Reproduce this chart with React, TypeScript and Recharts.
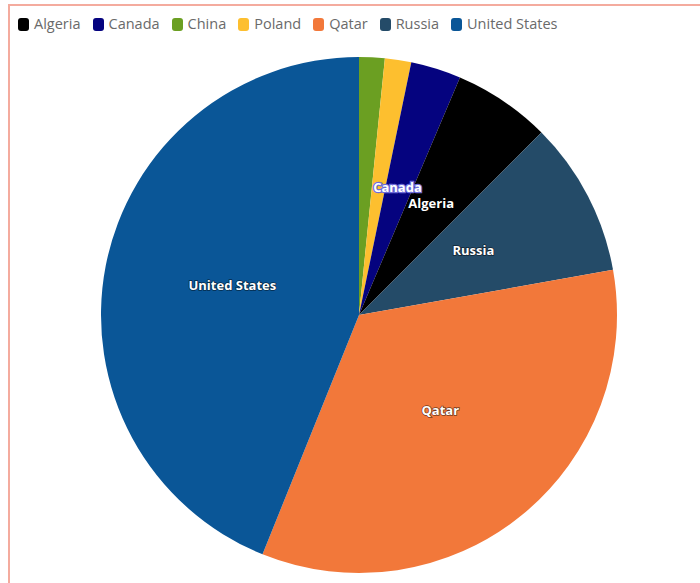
import React from "react";
import { PieChart, Pie, Cell } from "recharts";

// Slices in drawing order (clockwise from 12 o'clock)
const countries = ["China", "Poland", "Canada", "Algeria", "Russia", "Qatar", "United States"];
const shares = [1.6, 1.65, 3.15, 6.1, 9.7, 33.9, 43.9];
// Legend order (alphabetical)
const legendOrder = ["Algeria", "Canada", "China", "Poland", "Qatar", "Russia", "United States"];
// Labels hidden for the tiny slices
const unlabeled = ["China", "Poland"];

const colors: Record<string, string> = {
  Algeria: "#000000",
  Canada: "#05037f",
  China: "#6b9f22",
  Poland: "#fdbf2f",
  Qatar: "#f2783a",
  Russia: "#244b68",
  "United States": "#0a5697",
};

const data = countries.map((name, i) => ({ name, value: shares[i] }));

const FONT = "'Open Sans', 'DejaVu Sans', sans-serif";
const RADIAN = Math.PI / 180;

const renderLabel = (props: any) => {
  const { cx, cy, midAngle, outerRadius, name } = props;
  if (unlabeled.includes(name)) return null;
  const r = outerRadius * 0.5;
  const x = cx + r * Math.cos(-midAngle * RADIAN);
  const y = cy + r * Math.sin(-midAngle * RADIAN) - 5;
  const halo = name === "Canada" ? "#6b6bd8" : "rgba(0,0,0,0.55)";
  return (
    <text
      x={x}
      y={y}
      fill="#ffffff"
      stroke={halo}
      strokeWidth={name === "Canada" ? 2.5 : 1.5}
      paintOrder="stroke"
      textAnchor="middle"
      dominantBaseline="central"
      fontFamily={FONT}
      fontWeight={700}
      fontSize={13}
    >
      {name}
    </text>
  );
};

const LegendBlock = () => (
  <div
    style={{
      position: "absolute",
      left: 18,
      top: 14,
      display: "flex",
      alignItems: "center",
      gap: 12,
      fontFamily: FONT,
      fontSize: 14.5,
      lineHeight: "20px",
      color: "#6a6a6a",
      whiteSpace: "nowrap",
    }}
  >
    {legendOrder.map((name) => (
      <div key={name} style={{ display: "flex", alignItems: "center" }}>
        <span
          style={{
            display: "inline-block",
            width: 11,
            height: 13,
            borderRadius: 3,
            background: colors[name],
            marginRight: 5,
          }}
        />
        <span>{name}</span>
      </div>
    ))}
  </div>
);

export default function App() {
  return (
    <div
      style={{
        position: "absolute",
        left: 0,
        top: 0,
        width: 700,
        height: 583,
        overflow: "hidden",
        background: "#ffffff",
      }}
    >
      <div
        style={{
          position: "absolute",
          left: 8,
          top: 4,
          width: 720,
          height: 620,
          border: "2px solid #f4ab9e",
          boxSizing: "border-box",
        }}
      />
      <div style={{ position: "absolute", left: 0, top: 0 }}>
        <PieChart width={700} height={583} margin={{ top: 0, right: 0, bottom: 0, left: 0 }}>
          <Pie
            data={data}
            dataKey="value"
            nameKey="name"
            cx={359}
            cy={315}
            outerRadius={258}
            startAngle={90}
            endAngle={-270}
            stroke="none"
            label={renderLabel}
            labelLine={false}
            isAnimationActive={false}
          >
            {data.map((d) => (
              <Cell key={d.name} fill={colors[d.name]} />
            ))}
          </Pie>
        </PieChart>
      </div>
      <LegendBlock />
    </div>
  );
}
